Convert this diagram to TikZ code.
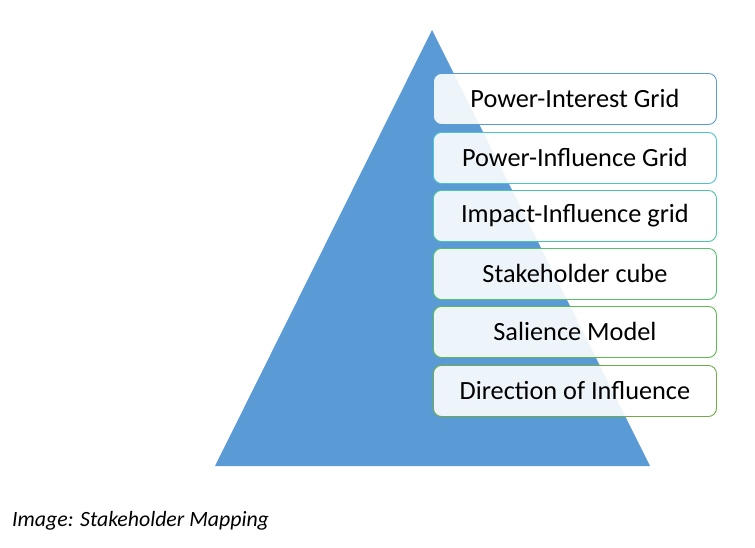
\documentclass[tikz,border=0pt]{standalone}
\usepackage{fontspec}
\setmainfont{Carlito}
\definecolor{tri}{HTML}{5B9BD5}
\definecolor{bA}{HTML}{5B9BD5}
\definecolor{bB}{HTML}{4DC3CF}
\definecolor{bC}{HTML}{4CC6A4}
\definecolor{bD}{HTML}{55C16E}
\definecolor{bE}{HTML}{5EB950}
\definecolor{bF}{HTML}{70AD47}
\tikzset{
  lvl/.style={draw=#1, line width=0.9pt, rounded corners=8pt, fill=white, fill opacity=0.9, text opacity=1,
    minimum width=283pt, minimum height=51pt, inner sep=0pt, anchor=north west,
    font=\fontsize{26.3}{30}\selectfont, text=black},
}
\begin{document}
\begin{tikzpicture}[x=1pt,y=-1pt]
\useasboundingbox (0,0) rectangle (755,547);
\coordinate (apex) at (432,30);
\coordinate (bl) at (215,466);
\coordinate (br) at (650,466);
\fill[tri] (apex) -- (br) -- (bl) -- cycle;
\node[lvl=bA] (n1) at (433,73) {Power-Interest Grid};
\node[lvl=bB] (n2) at (433,132) {Power-Influence Grid};
\node[lvl=bC] (n3) at (433,190) {Impact-Influence grid};
\node[lvl=bD] (n4) at (433,248) {Stakeholder cube};
\node[lvl=bE] (n5) at (433,306) {Salience Model};
\node[lvl=bF] (n6) at (433,365) {Direction of Influence};
\node[anchor=west, font=\fontsize{21.8}{25}\selectfont\itshape, inner sep=0pt] (cap) at (12,521) {Image: Stakeholder Mapping};
\end{tikzpicture}
\end{document}
